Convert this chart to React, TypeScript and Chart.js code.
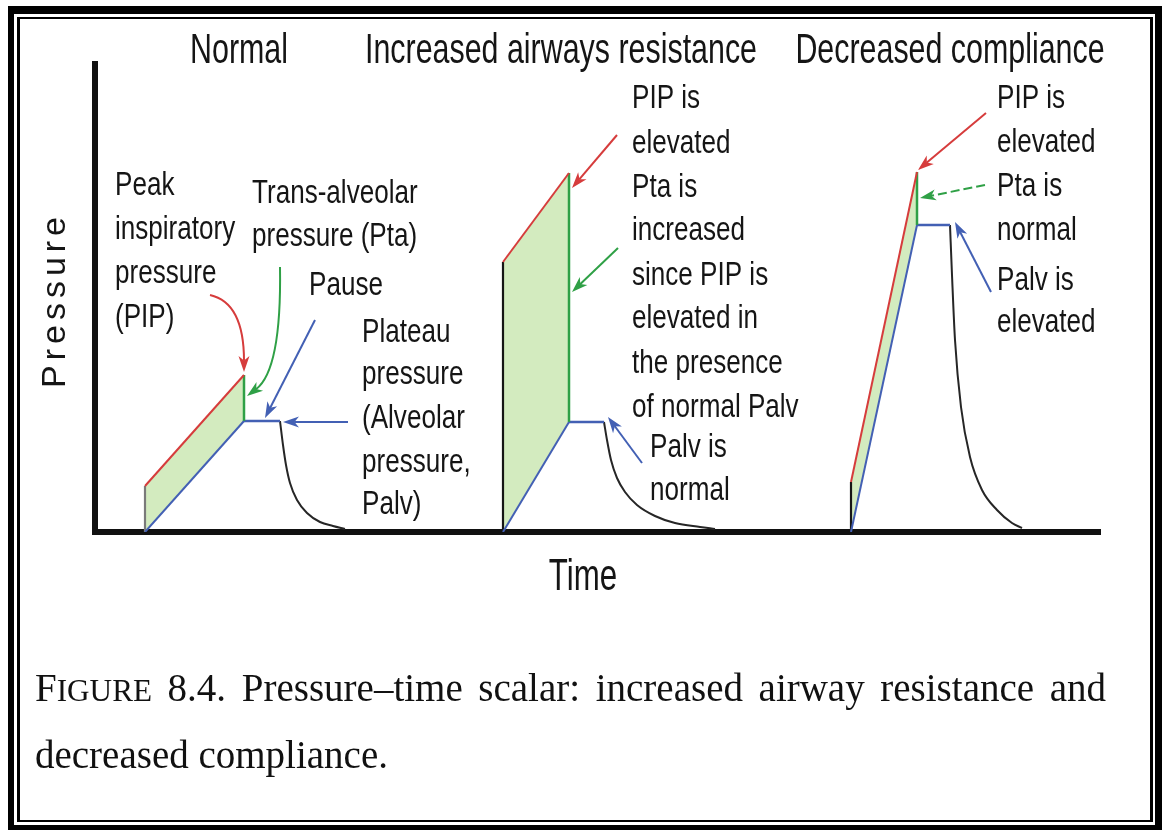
import React, { useEffect, useRef } from 'react';
import { Chart, registerables } from 'chart.js';

Chart.register(...registerables);

// ---- Data (time / pressure in arbitrary units) ----
const panelTitles = ['Normal', 'Increased airways resistance', 'Decreased compliance'];
const inspStart = [5.0, 40.8, 75.6];
const inspEnd = [14.9, 47.4, 82.2];
const pauseEnd = [18.5, 50.9, 85.5];
const resistiveStep = [4.6, 27.0, 5.0];
const peakPressure = [15.7, 35.9, 36.0];
const plateauPressure = [11.1, 11.0, 30.7];

const normalDecayTime = [18.5, 18.8, 19.1, 19.5, 20.2, 21.2, 22.5, 23.8, 25.0];
const normalDecayPressure = [11.1, 8.7, 6.7, 4.9, 3.2, 1.9, 1.0, 0.6, 0.3];
const resistanceDecayTime = [50.9, 51.2, 51.6, 52.2, 53.0, 54.2, 56.0, 58.0, 60.5, 62.0];
const resistanceDecayPressure = [11.0, 9.2, 7.2, 5.4, 4.0, 2.7, 1.6, 0.9, 0.5, 0.3];
const complianceDecayTime = [85.5, 85.7, 86.0, 86.6, 87.5, 88.7, 90.2, 91.7, 92.7];
const complianceDecayPressure = [30.7, 25.7, 19.2, 12.5, 7.5, 4.2, 2.2, 0.9, 0.4];

const decayTimes = [normalDecayTime, resistanceDecayTime, complianceDecayTime];
const decayPressures = [normalDecayPressure, resistanceDecayPressure, complianceDecayPressure];

const axisTitles = { x: 'Time', y: 'Pressure' };

const normalLabels = [
  ['Peak', 'inspiratory', 'pressure', '(PIP)'],
  ['Trans-alveolar', 'pressure (Pta)'],
  ['Pause'],
  ['Plateau', 'pressure', '(Alveolar', 'pressure,', 'Palv)'],
];
const resistanceLabels = [
  ['PIP is', 'elevated', 'Pta is', 'increased', 'since PIP is', 'elevated in', 'the presence', 'of normal Palv'],
  ['Palv is', 'normal'],
];
const complianceLabels = [['PIP is', 'elevated', 'Pta is', 'normal', 'Palv is', 'elevated']];

// ---- Styles ----
const RED = '#d63c3c';
const BLUE = '#4360b4';
const GREEN = '#2fa046';
const FILL = '#d3ebbf';
const DARK = '#262626';
const TEXT = '#151515';
const stepColors = ['#7a7a7a', '#161616', '#161616'];

// label blocks layout (pixels)
const labelBlocks = [
  { lines: normalLabels[0], x: 115, ys: [195, 239, 283, 327] },
  { lines: normalLabels[1], x: 252, ys: [203, 246] },
  { lines: normalLabels[2], x: 309, ys: [295] },
  { lines: normalLabels[3], x: 362, ys: [342, 384, 428, 472, 514] },
  { lines: resistanceLabels[0], x: 632, ys: [108, 153, 197, 240, 285, 328, 373, 417] },
  { lines: resistanceLabels[1], x: 650, ys: [457, 500] },
  { lines: complianceLabels[0], x: 997, ys: [108, 152, 196, 240, 290, 332] },
];
const titleCenters = [239, 561, 950];

// arrows in chart units
const arrows = [
  { pts: [[11.5, 23.7], [13.7, 23.2], [14.9, 21.2], [14.9, 16.0]], color: RED },
  { pts: [[18.5, 26.5], [18.6, 20.2], [18.0, 15.7], [15.2, 13.6]], color: GREEN },
  { pts: [[22.0, 21.2], [17.0, 11.4]], color: BLUE },
  { pts: [[25.3, 11.0], [18.8, 11.0]], color: BLUE },
  { pts: [[52.2, 39.7], [47.7, 34.4]], color: RED },
  { pts: [[52.3, 28.4], [47.7, 24.0]], color: GREEN },
  { pts: [[54.7, 6.9], [51.3, 11.5]], color: BLUE },
  { pts: [[89.1, 41.9], [82.3, 36.2]], color: RED },
  { pts: [[89.0, 34.7], [82.5, 33.4]], color: GREEN, dash: true },
  { pts: [[89.6, 24.0], [86.0, 31.0]], color: BLUE },
];

const SANS = '"Liberation Sans", Arial, Helvetica, sans-serif';

function drawCondensed(ctx: CanvasRenderingContext2D, text: string, x: number, y: number, size: number, sx: number, align: CanvasTextAlign) {
  ctx.save();
  ctx.font = `${size}px ${SANS}`;
  ctx.fillStyle = TEXT;
  ctx.textBaseline = 'alphabetic';
  ctx.textAlign = align;
  ctx.translate(x, y);
  ctx.scale(sx, 1);
  ctx.fillText(text, 0, 0);
  ctx.restore();
}

function drawArrow(ctx: CanvasRenderingContext2D, p: number[][], color: string, dash?: boolean) {
  const L = 16, W = 11;
  const tip = p[p.length - 1];
  const prev = p[p.length - 2];
  let dx = tip[0] - prev[0], dy = tip[1] - prev[1];
  const len = Math.hypot(dx, dy) || 1;
  dx /= len; dy /= len;
  const endX = tip[0] - dx * L * 0.7, endY = tip[1] - dy * L * 0.7;
  ctx.save();
  ctx.strokeStyle = color;
  ctx.fillStyle = color;
  ctx.lineWidth = 2;
  ctx.lineCap = 'butt';
  if (dash) ctx.setLineDash([9, 4]);
  ctx.beginPath();
  ctx.moveTo(p[0][0], p[0][1]);
  if (p.length === 4) ctx.bezierCurveTo(p[1][0], p[1][1], p[2][0], p[2][1], endX, endY);
  else ctx.lineTo(endX, endY);
  ctx.stroke();
  ctx.setLineDash([]);
  const nx = -dy, ny = dx;
  ctx.beginPath();
  ctx.moveTo(tip[0], tip[1]);
  ctx.lineTo(tip[0] - dx * L + nx * W / 2, tip[1] - dy * L + ny * W / 2);
  ctx.lineTo(tip[0] - dx * L * 0.72, tip[1] - dy * L * 0.72);
  ctx.lineTo(tip[0] - dx * L - nx * W / 2, tip[1] - dy * L - ny * W / 2);
  ctx.closePath();
  ctx.fill();
  ctx.restore();
}

const annotationPlugin = {
  id: 'diagramAnnotations',
  afterDraw(chart: any) {
    const ctx: CanvasRenderingContext2D = chart.ctx;
    const xs = chart.scales.x, ys = chart.scales.y;
    const toPx = (q: number[]) => [xs.getPixelForValue(q[0]), ys.getPixelForValue(q[1])];
    arrows.forEach((a) => drawArrow(ctx, a.pts.map(toPx), a.color, a.dash));

    panelTitles.forEach((t, i) => drawCondensed(ctx, t, titleCenters[i], 63, 43, 0.707, 'center'));
    labelBlocks.forEach((b) => b.lines.forEach((ln, j) => drawCondensed(ctx, ln, b.x, b.ys[j], 33, 0.79, 'left')));

    // axis titles
    drawCondensed(ctx, axisTitles.x, 583, 590, 44, 0.71, 'center');
    ctx.save();
    ctx.font = `34px ${SANS}`;
    ctx.fillStyle = TEXT;
    ctx.textAlign = 'center';
    ctx.textBaseline = 'alphabetic';
    (ctx as any).letterSpacing = '5px';
    ctx.translate(65, 300);
    ctx.rotate(-Math.PI / 2);
    ctx.fillText(axisTitles.y, 0, 0);
    ctx.restore();
  },
};

function buildDatasets() {
  const ds: any[] = [];
  for (let i = 0; i < 3; i++) {
    ds.push({
      data: [{ x: inspStart[i], y: resistiveStep[i] }, { x: inspEnd[i], y: peakPressure[i] }],
      borderColor: RED, borderWidth: 2, fill: '+1', backgroundColor: FILL,
    });
    ds.push({
      data: [{ x: inspStart[i], y: 0 }, { x: inspEnd[i], y: plateauPressure[i] }],
      borderColor: BLUE, borderWidth: 2, fill: false,
    });
    ds.push({
      data: [{ x: inspStart[i], y: 0 }, { x: inspStart[i], y: resistiveStep[i] }],
      borderColor: stepColors[i], borderWidth: 2.2, fill: false,
    });
    ds.push({
      data: [{ x: inspEnd[i], y: plateauPressure[i] }, { x: inspEnd[i], y: peakPressure[i] }],
      borderColor: GREEN, borderWidth: 2.5, fill: false,
    });
    ds.push({
      data: [{ x: inspEnd[i], y: plateauPressure[i] }, { x: pauseEnd[i], y: plateauPressure[i] }],
      borderColor: BLUE, borderWidth: 2.5, fill: false,
    });
    ds.push({
      data: decayTimes[i].map((t, k) => ({ x: t, y: decayPressures[i][k] })),
      borderColor: DARK, borderWidth: 2, fill: false, cubicInterpolationMode: 'monotone',
    });
  }
  return ds;
}

export default function App() {
  const ref = useRef<HTMLCanvasElement | null>(null);
  useEffect(() => {
    if (!ref.current) return;
    const chart = new Chart(ref.current, {
      type: 'line',
      data: { datasets: buildDatasets() },
      options: {
        animation: false,
        responsive: false,
        devicePixelRatio: 1,
        layout: { padding: { left: 95, top: 64, right: 62, bottom: 298 } },
        elements: { point: { radius: 0, hoverRadius: 0 }, line: { tension: 0 } },
        plugins: {
          legend: { display: false },
          tooltip: { enabled: false },
          filler: { drawTime: 'beforeDatasetsDraw' },
        },
        scales: {
          x: {
            type: 'linear', min: 0, max: 100.5,
            grid: { display: false, drawTicks: false },
            ticks: { display: false },
            border: { display: true, color: '#111', width: 6 },
            afterFit: (s: any) => { s.height = 0; },
          },
          y: {
            type: 'linear', min: 0, max: 46.8,
            grid: { display: false, drawTicks: false },
            ticks: { display: false },
            border: { display: true, color: '#111', width: 6 },
            afterFit: (s: any) => { s.width = 0; },
          },
        },
      } as any,
      plugins: [annotationPlugin],
    });
    return () => chart.destroy();
  }, []);

  return (
    <div style={{ position: 'absolute', left: 0, top: 0, width: 1162, height: 830, background: '#fff', overflow: 'hidden' }}>
      <div style={{ position: 'absolute', left: 8, top: 6, width: 1154, height: 824, boxSizing: 'border-box', borderStyle: 'solid', borderColor: '#000', borderWidth: '8px 7px 5px 6px' }} />
      <div style={{ position: 'absolute', left: 17, top: 17, width: 1136, height: 805, boxSizing: 'border-box', borderStyle: 'solid', borderColor: '#000', borderWidth: '2px 3px 2px 3px' }} />
      <canvas ref={ref} width={1162} height={830} style={{ position: 'absolute', left: 0, top: 0, width: 1162, height: 830 }} />
      <div style={{ position: 'absolute', left: 35, top: 656, width: 1071, fontFamily: '"Liberation Serif", "Times New Roman", serif', fontSize: 39, lineHeight: '64px', color: '#111' }}>
        <div style={{ textAlign: 'justify', textAlignLast: 'justify' }}>
          F<span style={{ fontSize: '0.8em' }}>IGURE</span> 8.4. Pressure–time scalar: increased airway resistance and
        </div>
        <div>decreased compliance.</div>
      </div>
    </div>
  );
}
